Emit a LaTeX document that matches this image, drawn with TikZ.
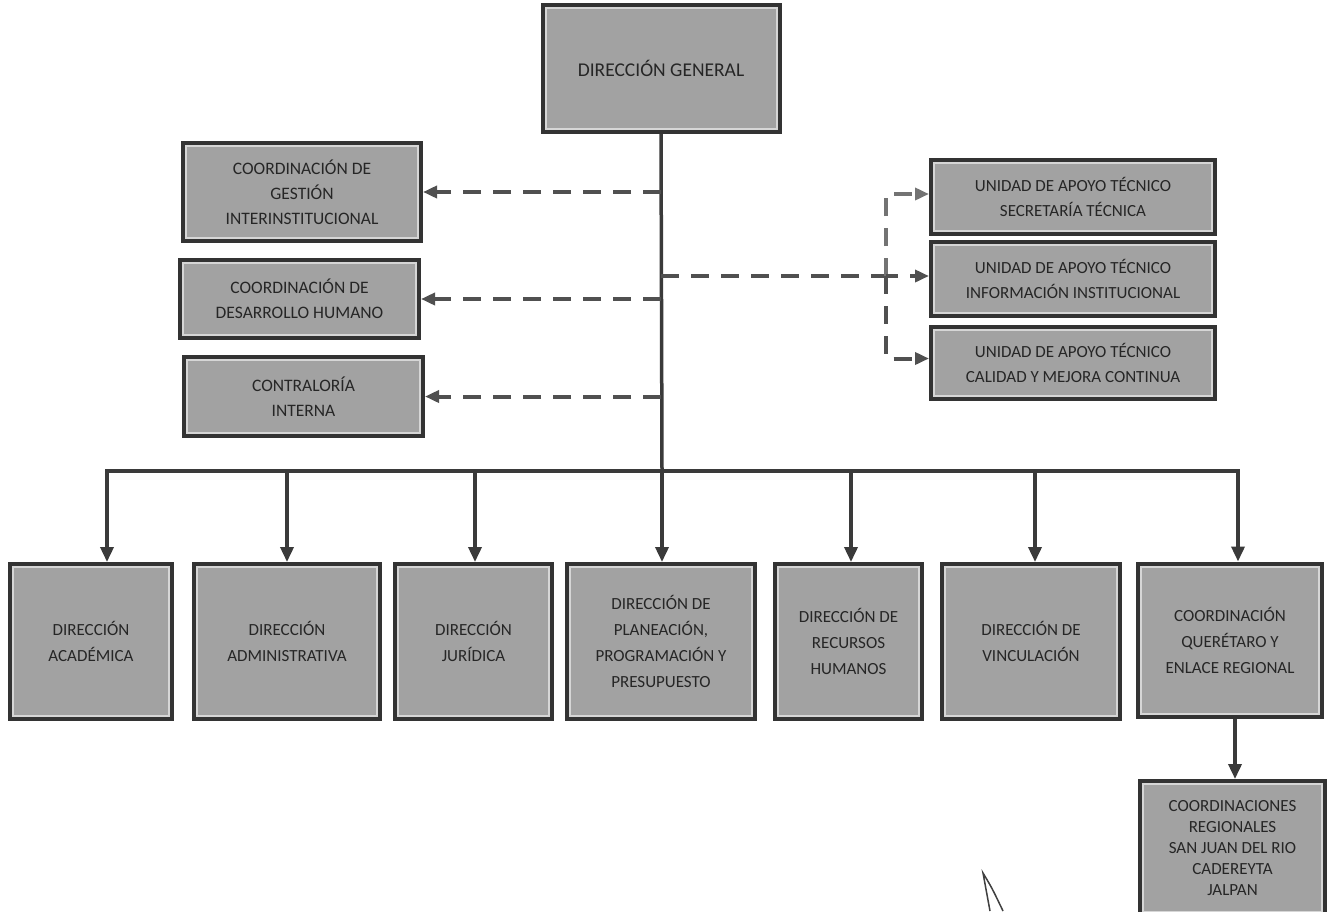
\documentclass[tikz,border=0pt]{standalone}
\usepackage{fontspec}
\setmainfont{Carlito}
\usetikzlibrary{arrows.meta}

\definecolor{boxfill}{HTML}{A2A2A2}
\definecolor{boxline}{HTML}{333333}
\definecolor{boxrim}{HTML}{D6D6D6}
\definecolor{linkcol}{HTML}{3A3A3A}
\definecolor{dashcol}{HTML}{505050}

\begin{document}
\begin{tikzpicture}[
    x=1pt, y=-1pt,
    box/.style={rectangle, draw=boxline, line width=4pt, fill=boxfill, text=black!85,
      inner sep=0pt, align=center, font=\fontsize{17}{26}\selectfont,
      path picture={\draw[boxrim, line width=8pt] (path picture bounding box.south west) rectangle (path picture bounding box.north east);}},
    staffbox/.style={box, font=\fontsize{17.5}{25}\selectfont},
    unitbox/.style={box, minimum width=284pt, font=\fontsize{17}{25}\selectfont},
    link/.style={draw=linkcol, line width=3.5pt},
    arrow/.style={link, -{Triangle[length=15pt, width=13pt]}},
    dashlink/.style={draw=dashcol, line width=4pt, dash pattern=on 18pt off 12pt},
    dasharrow/.style={dashlink, -{Triangle[length=14pt, width=12pt]}}
]
\useasboundingbox[fill=white] (0,0) rectangle (1327,911);

% direccion general
\node[box, minimum width=237pt, minimum height=127pt, font=\fontsize{19.5}{26}\selectfont] (dg) at (661,68.5) {DIRECCIÓN GENERAL};

% coordinaciones de staff
\node[staffbox, minimum width=238pt, minimum height=98pt] (gest) at (302,192) {COORDINACIÓN DE\\GESTIÓN\\INTERINSTITUCIONAL};
\node[staffbox, minimum width=239pt, minimum height=78pt] (desa) at (299.5,299) {COORDINACIÓN DE\\DESARROLLO HUMANO};
\node[staffbox, minimum width=239pt, minimum height=79pt] (contra) at (303.5,396.5) {CONTRALORÍA\\INTERNA};

% unidades de apoyo
\node[unitbox, minimum height=74pt] (uat1) at (1073,197) {UNIDAD DE APOYO TÉCNICO\\SECRETARÍA TÉCNICA};
\node[unitbox, minimum height=74pt] (uat2) at (1073,278.5) {UNIDAD DE APOYO TÉCNICO\\INFORMACIÓN INSTITUCIONAL};
\node[unitbox, minimum height=72pt] (uat3) at (1073,362.5) {UNIDAD DE APOYO TÉCNICO\\CALIDAD Y MEJORA CONTINUA};

% direcciones de area
\node[box, minimum width=162pt, minimum height=155pt] (acad) at (91,641.5) {DIRECCIÓN\\ACADÉMICA};
\node[box, minimum width=186pt, minimum height=155pt] (admin) at (287,641.5) {DIRECCIÓN\\ADMINISTRATIVA};
\node[box, minimum width=157pt, minimum height=155pt] (jur) at (473.5,641.5) {DIRECCIÓN\\JURÍDICA};
\node[box, minimum width=188pt, minimum height=155pt] (plan) at (661,641.5) {DIRECCIÓN DE\\PLANEACIÓN,\\PROGRAMACIÓN Y\\PRESUPUESTO};
\node[box, minimum width=147pt, minimum height=155pt] (rh) at (848.5,641.5) {DIRECCIÓN DE\\RECURSOS\\HUMANOS};
\node[box, minimum width=178pt, minimum height=155pt] (vinc) at (1031,641.5) {DIRECCIÓN DE\\VINCULACIÓN};
\node[box, minimum width=184pt, minimum height=153pt] (qro) at (1230,640) {COORDINACIÓN\\QUERÉTARO Y\\ENLACE REGIONAL};
\node[box, minimum width=185pt, minimum height=134pt, font=\fontsize{17}{21}\selectfont] (reg) at (1232.5,848) {COORDINACIONES\\REGIONALES\\SAN JUAN DEL RIO\\CADEREYTA\\JALPAN};

% tronco y bus
\coordinate (bus) at (662,471);
\draw[link] (dg.south) -- (bus);
\foreach \n/\s in {acad/16, admin/0, jur/1.5, plan/1, rh/2.5, vinc/4, qro/8}
  \draw[arrow] (bus) -| ([xshift=\s pt]\n.north);
\draw[arrow] ([xshift=5pt]qro.south) -- ([xshift=2.5pt]reg.north);

% staff
\draw[dasharrow] (dg.south |- gest.east) -- (gest.east);
\draw[dasharrow] (dg.south |- desa.east) -- (desa.east);
\draw[dasharrow] (dg.south |- contra.east) -- (contra.east);

\coordinate (split) at (886,276);
\draw[dashlink] (dg.south |- split) -- (split);
\draw[dasharrow, draw=black!55] (split) |- ([yshift=3pt]uat1.west);
\draw[dasharrow, dash phase=6pt] (split) -- (uat2.west |- split);
\draw[dasharrow] (split) |- ([yshift=4pt]uat3.west);

% trazo a mano
\draw[black!75, line width=1.5pt] (990,911) .. controls (986,892) .. (983,873) .. controls (992,888) .. (1003,911);
\end{tikzpicture}
\end{document}
